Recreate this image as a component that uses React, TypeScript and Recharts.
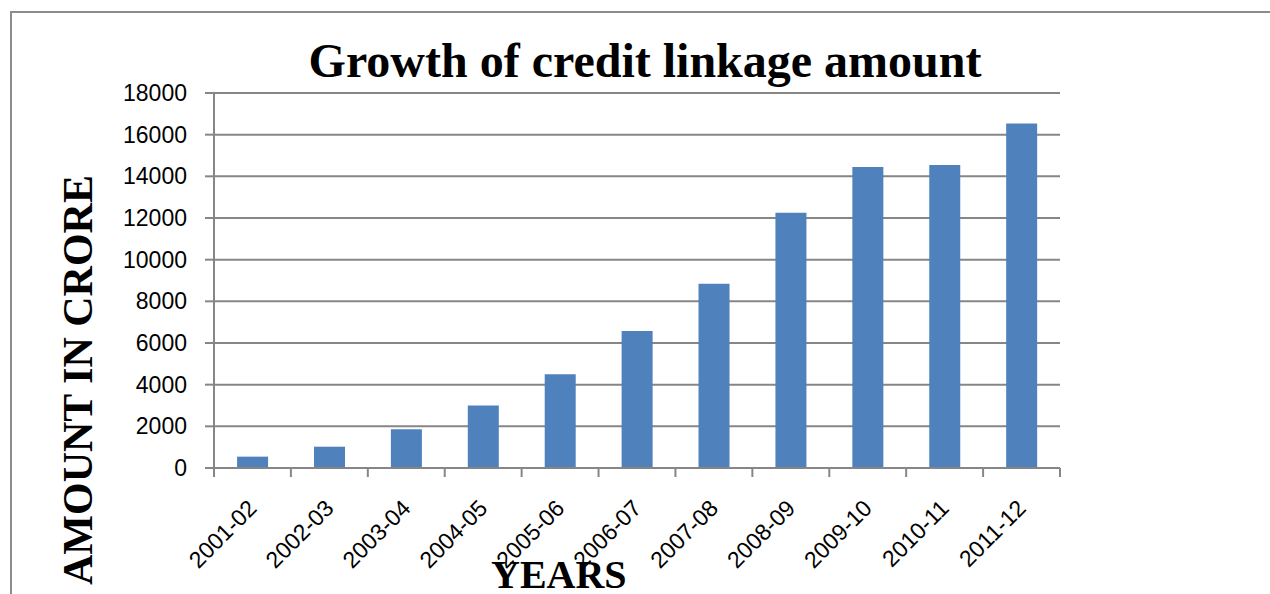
import React from 'react';
import { BarChart, Bar, XAxis, YAxis, CartesianGrid, Label } from 'recharts';

const categories = ['2001-02', '2002-03', '2003-04', '2004-05', '2005-06', '2006-07', '2007-08', '2008-09', '2009-10', '2010-11', '2011-12'];
const amounts = [545.47, 1022.33, 1855.53, 2994.26, 4499.09, 6570.39, 8849.26, 12253.51, 14453.3, 14547.73, 16534.77];
const yTicks = [0, 2000, 4000, 6000, 8000, 10000, 12000, 14000, 16000, 18000];
const title = 'Growth of credit linkage amount';
const xTitle = 'YEARS';
const yTitle = 'AMOUNT IN CRORE';

const data = categories.map((c, i) => ({ year: c, amount: amounts[i] }));

const GRAY = '#868686';
const BLUE = '#4F81BD';
const TICK_FONT = '"Liberation Sans", Arial, sans-serif';
const TITLE_FONT = '"Liberation Serif", "Times New Roman", serif';

const XTick = (props: any) => {
  const { x, y, payload, index, visibleTicksCount, width } = props;
  const count = visibleTicksCount || categories.length;
  const band = (width || 846) / count;
  const left = x - band / 2;
  const ty = y + 36;
  return (
    <g>
      <line x1={left} y1={y} x2={left} y2={y + 9} stroke={GRAY} strokeWidth={2} />
      {index === count - 1 && (
        <line x1={x + band / 2} y1={y} x2={x + band / 2} y2={y + 9} stroke={GRAY} strokeWidth={2} />
      )}
      <text
        x={x}
        y={ty}
        dy="0.35em"
        textAnchor="end"
        transform={`rotate(-45, ${x}, ${ty})`}
        fill="#000"
        fontSize={23}
        fontFamily={TICK_FONT}
      >
        {payload.value}
      </text>
    </g>
  );
};

export default function App() {
  return (
    <div style={{ position: 'absolute', left: 0, top: 0, width: 1270, height: 594, background: '#fff', overflow: 'hidden' }}>
      <div
        style={{
          position: 'absolute',
          left: 10,
          top: 11,
          width: 1300,
          height: 700,
          borderTop: '2px solid #8c8c8c',
          borderLeft: '2px solid #8c8c8c',
        }}
      />
      <svg style={{ position: 'absolute', left: 0, top: 0 }} width={1270} height={100}>
        <text x={645} y={77} textAnchor="middle" fontFamily={TITLE_FONT} fontWeight="bold" fontSize={48} fill="#000">
          {title}
        </text>
      </svg>
      <div style={{ position: 'absolute', left: 0, top: 0 }}>
        <BarChart width={1270} height={594} data={data} margin={{ top: 93, right: 210, bottom: 0, left: 0 }} barCategoryGap="30%">
          <CartesianGrid vertical={false} stroke={GRAY} strokeWidth={2} />
          <XAxis
            dataKey="year"
            height={126}
            interval={0}
            axisLine={{ stroke: GRAY, strokeWidth: 2 }}
            tickLine={false}
            tickSize={0}
            tickMargin={0}
            tick={<XTick />}
          >
            <Label
              content={(p: any) => {
                const vb = p.viewBox || {};
                return (
                  <text
                    x={491}
                    y={(vb.y || 468) + 120}
                    textAnchor="start"
                    fontFamily={TITLE_FONT}
                    fontWeight="bold"
                    fontSize={40}
                    fill="#000"
                  >
                    {xTitle}
                  </text>
                );
              }}
            />
          </XAxis>
          <YAxis
            width={214}
            domain={[0, 18000]}
            ticks={yTicks}
            interval={0}
            axisLine={{ stroke: GRAY, strokeWidth: 2 }}
            tickLine={{ stroke: GRAY, strokeWidth: 2 }}
            tickSize={9}
            tickMargin={18}
            tick={{ fill: '#000', fontSize: 23, fontFamily: TICK_FONT }}
          >
            <Label
              content={() => (
                <text
                  x={92}
                  y={585}
                  transform="rotate(-90, 92, 585)"
                  textAnchor="start"
                  fontFamily={TITLE_FONT}
                  fontWeight="bold"
                  fontSize={42}
                  fill="#000"
                >
                  {yTitle}
                </text>
              )}
            />
          </YAxis>
          <Bar dataKey="amount" fill={BLUE} isAnimationActive={false} />
        </BarChart>
      </div>
    </div>
  );
}
